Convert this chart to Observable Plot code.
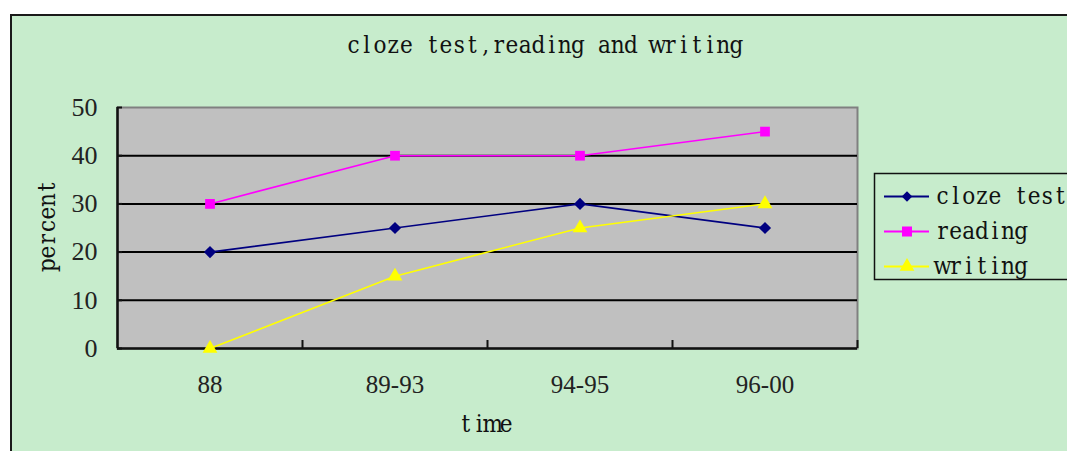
<!DOCTYPE html>
<html>
<head>
<meta charset="utf-8">
<script src="https://cdn.jsdelivr.net/npm/d3@7"></script>
<script src="https://cdn.jsdelivr.net/npm/@observablehq/plot@0.6"></script>
<style>
  html, body { margin: 0; padding: 0; background: #fff; overflow: hidden; width: 1067px; height: 451px; }
  #wrap { position: relative; width: 1067px; height: 451px; overflow: hidden; }
  #panel { position: absolute; left: 10px; top: 14px; width: 1100px; height: 460px; background: #C7ECCC; border: 2px solid #1a1a1a; box-sizing: border-box; }
  #chart, #overlay { position: absolute; left: 0; top: 0; }
</style>
</head>
<body>
<div id="wrap">
  <div id="panel"></div>
  <div id="chart"></div>
  <div id="overlay"></div>
</div>
<script>
const title = "cloze test,reading and writing";
const categories = ["88", "89-93", "94-95", "96-00"];
const seriesNames = ["cloze test", "reading", "writing"];
const clozeTest = [20, 25, 30, 25];
const reading = [30, 40, 40, 45];
const writing = [0, 15, 25, 30];
const yTicks = [0, 10, 20, 30, 40, 50];
const colors = ["#000080", "#FF00FF", "#FFFF00"];
const symbols = ["diamond2", "square", "triangle"];
const yLabel = "percent";
const xLabel = "time";

const seriesValues = [clozeTest, reading, writing];
const data = [];
seriesNames.forEach((s, si) => {
  seriesValues[si].forEach((v, i) => data.push({series: s, pos: i + 0.5, cat: categories[i], value: v}));
});
const labelPos = categories.map((_, i) => i + 0.5);
const boundaryPos = categories.map((_, i) => i + 1);
const gridVals = yTicks.filter(v => v > 0 && v < 50);

const W = 1067, H = 451;
const mL = 117, mR = 210, mT = 107, mB = 103;

const chart = Plot.plot({
  width: W,
  height: H,
  marginLeft: mL,
  marginRight: mR,
  marginTop: mT,
  marginBottom: mB,
  style: {background: "transparent", overflow: "visible"},
  x: {type: "linear", domain: [0, categories.length], axis: null},
  y: {domain: [0, 50], axis: null},
  color: {domain: seriesNames, range: colors},
  symbol: {domain: seriesNames, range: symbols},
  marks: [
    Plot.frame({fill: "#C0C0C0", stroke: "#808080", strokeWidth: 2}),
    Plot.ruleY(gridVals, {stroke: "#000", strokeWidth: 2}),
    Plot.ruleX([0], {stroke: "#111", strokeWidth: 2.5}),
    Plot.ruleY([0], {stroke: "#111", strokeWidth: 2.5}),
    Plot.axisY({ticks: yTicks, tickSize: 0, tickPadding: 20, fontSize: 26, fontFamily: "Liberation Serif, serif", fill: "#222", label: null}),
    Plot.axisY({ticks: yTicks, tickSize: -5, tickFormat: () => "", stroke: "#111", strokeWidth: 2, label: null}),
    Plot.axisX(labelPos, {tickSize: 0, tickPadding: 27, tickFormat: (d) => categories[Math.round(d - 0.5)], fontSize: 25, fontFamily: "Liberation Serif, serif", fill: "#222", label: null}),
    Plot.axisX(boundaryPos, {tickSize: -8, tickFormat: () => "", stroke: "#111", strokeWidth: 2, label: null}),
    Plot.line(data, {x: "pos", y: "value", z: "series", stroke: "series", strokeWidth: 1.6}),
    Plot.dot(data, {x: "pos", y: "value", symbol: "series", fill: "series", stroke: "none", r: 5.5})
  ]
});
document.getElementById("chart").appendChild(chart);

// Overlay: title, axis labels, legend (monospaced serif text, like SimSun's Latin glyphs)
const svg = d3.select("#overlay").append("svg").attr("width", W).attr("height", H);
const FONT = "DejaVu Serif Condensed, DejaVu Serif, serif";
function monoText(g, str, cx, y, cell, size) {
  const n = str.length;
  const x0 = cx - n * cell / 2;
  const xs = Array.from(str, (_, i) => (x0 + cell * (i + 0.5)).toFixed(2)).join(" ");
  return g.append("text")
    .attr("x", xs).attr("y", y)
    .attr("text-anchor", "middle")
    .attr("font-family", FONT)
    .attr("font-stretch", "condensed")
    .attr("font-size", size)
    .attr("fill", "#111")
    .text(str);
}
const CELL = 13.2;
const TS = 24;
// title, centered over panel
monoText(svg, title, 545, 53, CELL, TS);
// x label
monoText(svg, xLabel, 486, 432, 13.4, TS);
// y label rotated
const gy = svg.append("g").attr("transform", "translate(55,226) rotate(-90)");
monoText(gy, yLabel, 0, 0, 13, TS);

// legend
const lg = svg.append("g");
lg.append("rect").attr("x", 874.5).attr("y", 173.5).attr("width", 240).attr("height", 106)
  .attr("fill", "none").attr("stroke", "#111").attr("stroke-width", 1.5);
const symMap = {diamond2: d3.symbolDiamond2, square: d3.symbolSquare, triangle: d3.symbolTriangle};
const symSize = {diamond2: 70, square: 100, triangle: 95};
seriesNames.forEach((s, i) => {
  const cy = 196.5 + i * 35;
  lg.append("line").attr("x1", 884).attr("x2", 929).attr("y1", cy).attr("y2", cy)
    .attr("stroke", colors[i]).attr("stroke-width", 1.8);
  lg.append("path").attr("transform", `translate(907,${cy})`)
    .attr("d", d3.symbol(symMap[symbols[i]], symSize[symbols[i]])())
    .attr("fill", colors[i]);
  monoText(lg, s, 936 + s.length * 13.1 / 2, cy + 7, 13.1, TS);
});
</script>
</body>
</html>
